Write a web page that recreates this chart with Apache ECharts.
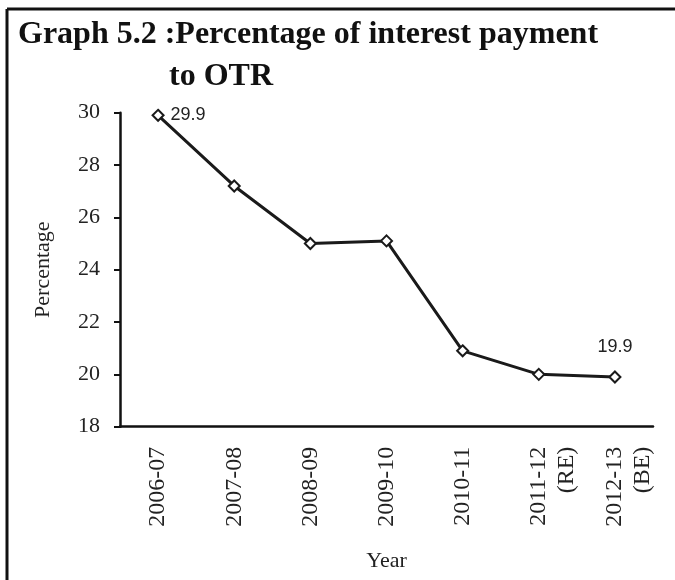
<!DOCTYPE html>
<html>
<head>
<meta charset="utf-8">
<script src="https://cdn.jsdelivr.net/npm/echarts@6/dist/echarts.min.js"></script>
<style>html,body{margin:0;padding:0;background:#fff}#c{width:675px;height:580px}</style>
</head>
<body>
<div id="c"></div>
<script>
var categories = ['2006-07', '2007-08', '2008-09', '2009-10', '2010-11', '2011-12\n(RE)', '2012-13\n(BE)'];
var values = [29.9, 27.2, 25.0, 25.1, 20.9, 20.0, 19.9];
var yTicks = { min: 18, max: 30, interval: 2 };
var titleLine1 = 'Graph 5.2 :Percentage of interest payment';
var titleLine2 = 'to OTR';

var serif = "'Liberation Serif', 'Times New Roman', serif";
var LH = 28;
var seriesData = values.map(function (v, i) {
  var item = { value: v, label: { show: false } };
  if (i === 0) item.label = { show: true, position: 'right', distance: 6 };
  if (i === values.length - 1) item.label = { show: true, position: 'top', distance: 14 };
  return item;
});

var chart = echarts.init(document.getElementById('c'));
chart.setOption({
  animation: false,
  backgroundColor: '#fff',
  title: [
    { text: titleLine1, left: 13, top: 14, textStyle: { fontFamily: serif, fontWeight: 'bold', fontSize: 32, color: '#111' } },
    { text: titleLine2, left: 164, top: 56, textStyle: { fontFamily: serif, fontWeight: 'bold', fontSize: 32, color: '#111' } }
  ],
  graphic: [
    { type: 'line', shape: { x1: 7, y1: 9, x2: 675, y2: 9 }, style: { stroke: '#111', lineWidth: 3 } },
    { type: 'line', shape: { x1: 7, y1: 9, x2: 7, y2: 580 }, style: { stroke: '#111', lineWidth: 3 } }
  ],
  grid: { left: 120, right: 22, top: 112.7, bottom: 153.3 },
  xAxis: {
    type: 'category',
    data: categories,
    boundaryGap: true,
    name: 'Year',
    nameLocation: 'middle',
    nameGap: 124,
    nameTextStyle: { fontFamily: serif, fontSize: 22, color: '#222' },
    axisLine: { lineStyle: { color: '#111', width: 2.5 } },
    axisTick: { alignWithLabel: true, length: 7, lineStyle: { color: '#111', width: 2 } },
    axisLabel: {
      rotate: 90, margin: 20, interval: 0, showMinLabel: true, showMaxLabel: true, hideOverlap: false,
      fontFamily: serif, fontSize: 24, color: '#222', lineHeight: LH,
      verticalAlign: 'middle',
      formatter: function (v) { return v.indexOf('\n') >= 0 ? ' \n' + v : ' \n' + v + '\n '; }
    },
    splitLine: { show: false }
  },
  yAxis: {
    type: 'value',
    min: yTicks.min, max: yTicks.max, interval: yTicks.interval,
    name: 'Percentage',
    nameLocation: 'middle',
    nameGap: 66,
    nameTextStyle: { fontFamily: serif, fontSize: 22, color: '#222' },
    axisLine: { show: true, lineStyle: { color: '#111', width: 2.5 } },
    axisTick: { show: true, length: 6, lineStyle: { color: '#111', width: 2 } },
    axisLabel: { margin: 20, fontFamily: serif, fontSize: 22, color: '#222' },
    splitLine: { show: false }
  },
  series: [{
    type: 'line',
    data: seriesData,
    symbol: 'diamond',
    symbolSize: 11,
    showAllSymbol: true,
    lineStyle: { color: '#1a1a1a', width: 3 },
    itemStyle: { color: '#fff', borderColor: '#1a1a1a', borderWidth: 2 },
    label: { fontFamily: "'Liberation Sans', Arial, sans-serif", fontSize: 18, color: '#222' }
  }]
});
</script>
</body>
</html>
